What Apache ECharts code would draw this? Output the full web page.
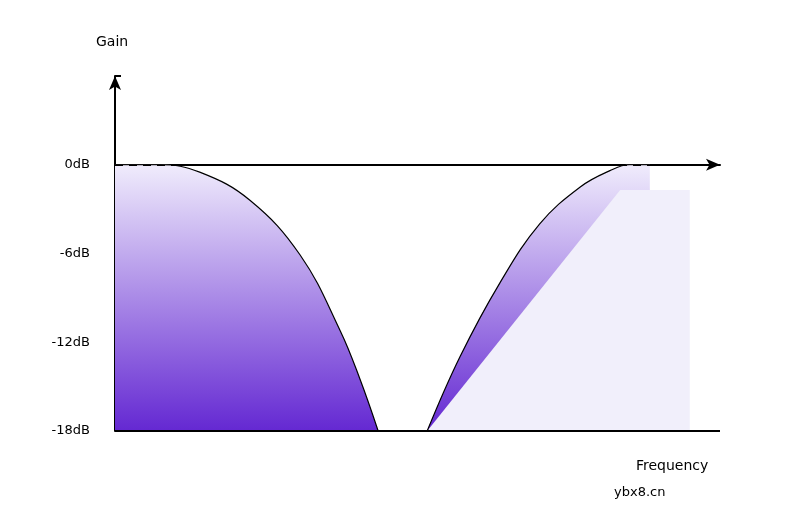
<!DOCTYPE html>
<html>
<head>
<meta charset="utf-8">
<script src="https://cdn.jsdelivr.net/npm/echarts@6/dist/echarts.min.js"></script>
<style>html,body{margin:0;background:#fff}#chart{width:792px;height:526px}</style>
</head>
<body>
<div id="chart"></div>
<script>
// frequency in arbitrary units (0..100), gain in dB
var lowPass = [[0, 0], [7.4, 0], [14, -0.5], [22.3, -2.4], [30.6, -6.1], [37.2, -11.2], [40.5, -14.5], [43.5, -18]];
var highPass = [[51.6, -18], [57, -13], [63.6, -8], [70.2, -4], [76.9, -1.5], [81.8, -0.4], [85, 0], [88.4, 0]];
var edge = [[51.6, -18], [83.5, -1.7], [95, -1.7], [95, -18]];
var gainTicks = [0, -6, -12, -18];

(function () {
    var myChart = echarts.init(document.getElementById('chart'));
    var purple = {
        type: 'linear', x: 0, y: 0, x2: 0, y2: 1,
        colorStops: [{offset: 0, color: 'rgba(240,236,252,1)'}, {offset: 1, color: 'rgba(100,40,210,1)'}]
    };
    var option = {
        animation: false,
        grid: {left: 115, right: 72, top: 76, bottom: 95},
        xAxis: {
            type: 'value', min: 0, max: 100,
            axisLine: {symbol: ['none', 'arrow'], symbolSize: [9, 14], lineStyle: {color: '#000', width: 2}},
            axisTick: {show: false}, axisLabel: {show: false}, splitLine: {show: false}
        },
        yAxis: {
            type: 'value', min: -18, max: 6, interval: 6,
            axisLine: {show: true, symbol: ['none', 'arrow'], symbolSize: [9, 14], lineStyle: {color: '#000', width: 2}},
            axisTick: {show: true, length: 6, inside: true, lineStyle: {color: '#000', width: 2}},
            axisLabel: {
                color: '#000', fontSize: 13, fontFamily: 'DejaVu Sans', margin: 25,
                formatter: function (v) { return gainTicks.indexOf(v) >= 0 ? v + 'dB' : ''; }
            },
            splitLine: {show: false}
        },
        series: [
            {
                type: 'line', data: lowPass, smooth: 0.4, symbol: 'none',
                lineStyle: {color: '#000', width: 1.2},
                areaStyle: {color: purple, origin: 'start', opacity: 1},
                markLine: {
                    silent: true, symbol: 'none', label: {show: false},
                    lineStyle: {color: '#000', type: [8, 6], width: 1},
                    data: [[{coord: [0, 0]}, {coord: [100, 0]}]]
                }
            },
            {
                type: 'line', data: highPass, smooth: 0.4, symbol: 'none',
                lineStyle: {color: '#000', width: 1.2},
                areaStyle: {color: purple, origin: 'start', opacity: 1}
            },
            {
                type: 'line', data: edge, symbol: 'none',
                lineStyle: {width: 0},
                areaStyle: {color: '#f1effb', origin: 'start', opacity: 1}
            },
            {
                type: 'line', data: [[0, -18], [100, -18]], symbol: 'none',
                lineStyle: {color: '#000', width: 2}
            }
        ],
        graphic: [
            {type: 'text', left: 96, top: 35, style: {text: 'Gain', fontSize: 14, fontFamily: 'DejaVu Sans', fill: '#000'}},
            {type: 'text', left: 636, top: 459, style: {text: 'Frequency', fontSize: 14, fontFamily: 'DejaVu Sans', fill: '#000'}},
            {type: 'text', left: 614, top: 486, style: {text: 'ybx8.cn', fontSize: 13, fontFamily: 'DejaVu Sans', fill: '#000'}}
        ]
    };
    myChart.setOption(option);
})();
</script>
</body>
</html>
